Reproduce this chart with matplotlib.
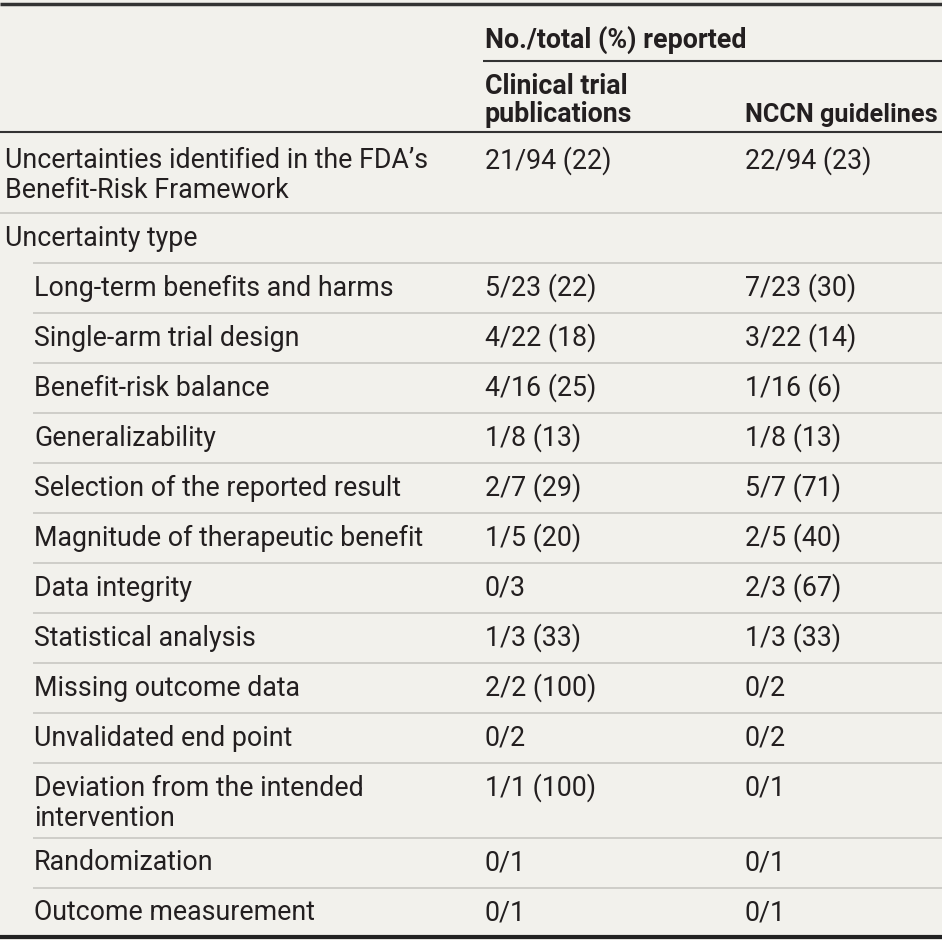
import matplotlib
matplotlib.use('Agg')
import matplotlib.pyplot as plt

# table content
labels = [
    ["Uncertainties identified in the FDA\u2019s", "Benefit-Risk Framework"],
    ["Uncertainty type"],
    ["Long-term benefits and harms"],
    ["Single-arm trial design"],
    ["Benefit-risk balance"],
    ["Generalizability"],
    ["Selection of the reported result"],
    ["Magnitude of therapeutic benefit"],
    ["Data integrity"],
    ["Statistical analysis"],
    ["Missing outcome data"],
    ["Unvalidated end point"],
    ["Deviation from the intended", "intervention"],
    ["Randomization"],
    ["Outcome measurement"],
]
indent = [False, False] + [True] * 13
trial_pubs = ["21/94 (22)", "", "5/23 (22)", "4/22 (18)", "4/16 (25)", "1/8 (13)",
              "2/7 (29)", "1/5 (20)", "0/3", "1/3 (33)", "2/2 (100)", "0/2",
              "1/1 (100)", "0/1", "0/1"]
nccn = ["22/94 (23)", "", "7/23 (30)", "3/22 (14)", "1/16 (6)", "1/8 (13)",
        "5/7 (71)", "2/5 (40)", "2/3 (67)", "1/3 (33)", "0/2", "0/2",
        "0/1", "0/1", "0/1"]
top_header = "No./total (%) reported"
col_headers = [["Clinical trial", "publications"], ["NCCN guidelines"]]

bg = '#f2f1ec'
ink = '#231f20'
fam = ['Roboto', 'DejaVu Sans']
fs = 19.3

fig = plt.figure(figsize=(9.42, 9.40), dpi=100, facecolor=bg)
ax = fig.add_axes([0, 0, 1, 1])
ax.set_facecolor(bg)
ax.set_xlim(0, 942)
ax.set_ylim(940, 0)
ax.axis('off')

x_lab, x_ind, x_c1, x_c2 = 5, 34, 485, 745
line_h = 30

# header
ax.plot([0, 942], [4, 4], color='#333333', lw=2.5, solid_capstyle='butt')
ax.text(x_c1, 40, top_header, fontsize=fs, fontweight='bold', color=ink,
        family=fam, va='center')
ax.plot([483, 942], [61, 61], color='#333333', lw=1.5, solid_capstyle='butt')
ax.text(x_c1, 86, col_headers[0][0], fontsize=fs, fontweight='bold', color=ink, family=fam, va='center')
ax.text(x_c1, 115, col_headers[0][1], fontsize=fs, fontweight='bold', color=ink, family=fam, va='center')
ax.text(x_c2, 115, col_headers[1][0], fontsize=18.2, fontweight='bold', color=ink, family=fam, va='center')
ax.plot([0, 942], [132, 132], color='#333333', lw=1.5, solid_capstyle='butt')

top = 132
for i, lab in enumerate(labels):
    n = len(lab)
    h = 50 if n == 1 else (81 if i == 0 else 75)
    y0 = top + (29 if i == 0 else 25)
    x = x_ind if indent[i] else x_lab
    for k, s in enumerate(lab):
        ax.text(x, y0 + k * line_h, s, fontsize=fs, color=ink, family=fam, va='center')
    ax.text(x_c1, y0, trial_pubs[i], fontsize=fs, color=ink, family=fam, va='center')
    ax.text(x_c2, y0, nccn[i], fontsize=fs, color=ink, family=fam, va='center')
    top += h
    if i < len(labels) - 1:
        xs = 33 if indent[i + 1] and indent[i] or (i == 1) else 0
        ax.plot([xs, 942], [top, top], color='#c8c7c2', lw=1.2, solid_capstyle='butt')

ax.plot([0, 942], [937, 937], color='#222222', lw=3, solid_capstyle='butt')

fig.savefig('out.png', dpi=100, facecolor=bg)
